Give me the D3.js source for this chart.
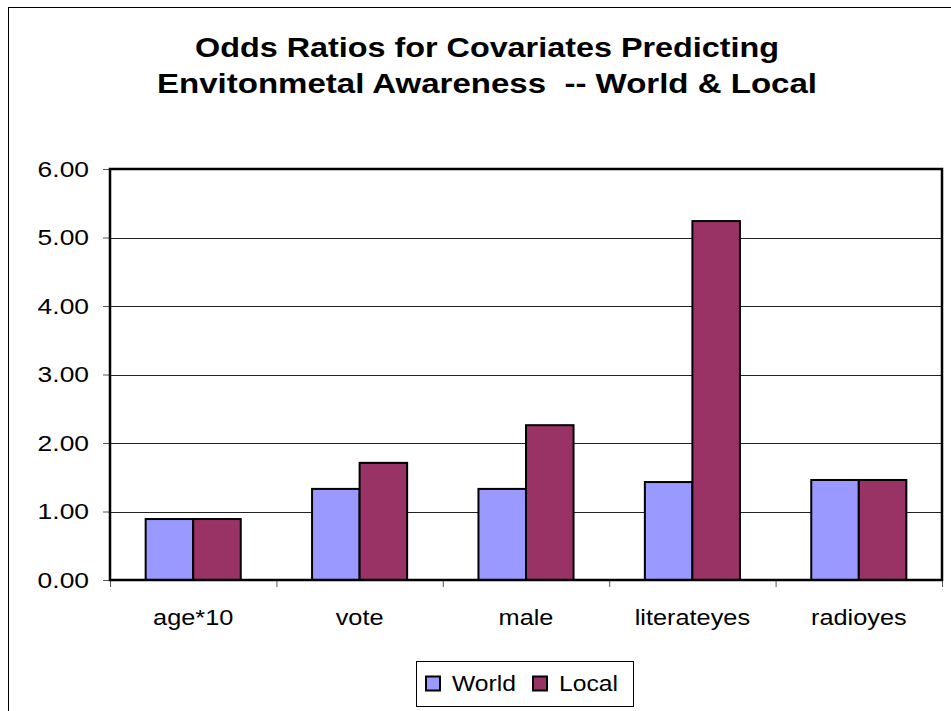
<!DOCTYPE html>
<html>
<head>
<meta charset="utf-8">
<script src="https://cdn.jsdelivr.net/npm/d3@7"></script>
<style>
  html, body { margin: 0; padding: 0; background: #fff; }
  svg { display: block; }
  text { font-family: "Liberation Sans", Arial, sans-serif; fill: #000; }
</style>
</head>
<body>
<svg id="chart" width="951" height="711"></svg>
<script>
// Odds ratios per covariate
const categories = ["age*10", "vote", "male", "literateyes", "radioyes"];
const seriesNames = ["World", "Local"];
const worldValues = [0.89, 1.33, 1.33, 1.43, 1.46];
const localValues = [0.89, 1.71, 2.26, 5.24, 1.46];
const yTicks = [0, 1, 2, 3, 4, 5, 6];
const titleLines = ["Odds Ratios for Covariates Predicting", "Envitonmetal Awareness  -- World & Local"];

const colors = { World: "#9999ff", Local: "#993366" };
const seriesValues = { World: worldValues, Local: localValues };

// widen text horizontally (the chart's text is drawn slightly stretched)
function stretch(sel, factor) {
  sel.each(function () {
    const w = this.getComputedTextLength();
    d3.select(this).attr("textLength", w * factor).attr("lengthAdjust", "spacingAndGlyphs");
  });
}

const svg = d3.select("#chart");

// outer chart frame
svg.append("rect")
  .attr("x", 8.5).attr("y", 7.5)
  .attr("width", 960).attr("height", 720)
  .attr("fill", "#fff").attr("stroke", "#000").attr("stroke-width", 1);

const plot = { left: 110, top: 169, right: 942, bottom: 580 };

const x0 = d3.scaleBand()
  .domain(categories)
  .range([plot.left, plot.right])
  .paddingInner(0).paddingOuter(0);

// gap width 150% of a bar: two bars take 2/3.5 of a category
const x1 = d3.scaleBand()
  .domain(seriesNames)
  .range([0, x0.bandwidth()])
  .paddingInner(0)
  .paddingOuter(0.75);

const y = d3.scaleLinear().domain([0, 6]).range([plot.bottom, plot.top]);

// gridlines
svg.append("g")
  .selectAll("line")
  .data(yTicks.filter(d => d > 0 && d < 6))
  .join("line")
  .attr("x1", plot.left).attr("x2", plot.right)
  .attr("y1", d => Math.round(y(d)) + 0.5).attr("y2", d => Math.round(y(d)) + 0.5)
  .attr("stroke", "#222").attr("stroke-width", 1);

// y axis
const yAxis = svg.append("g")
  .attr("transform", `translate(${plot.left},0)`)
  .call(d3.axisLeft(y).tickValues(yTicks).tickFormat(d3.format(".2f")).tickSize(7).tickPadding(14));
yAxis.select(".domain").remove();
yAxis.selectAll(".tick line").attr("stroke", "#555");
yAxis.selectAll(".tick text")
  .style("font-family", "'Liberation Sans', Arial, sans-serif")
  .style("font-size", "22px").attr("fill", "#000")
  .call(stretch, 1.2);

// x axis
const xAxis = svg.append("g")
  .attr("transform", `translate(0,${plot.bottom})`)
  .call(d3.axisBottom(x0).tickSize(0));
xAxis.select(".domain").remove();
xAxis.selectAll(".tick text")
  .attr("y", 45).attr("dy", 0)
  .style("font-family", "'Liberation Sans', Arial, sans-serif")
  .style("font-size", "22px").attr("fill", "#000")
  .call(stretch, 1.15);

// category separator ticks
svg.append("g")
  .selectAll("line")
  .data(d3.range(categories.length + 1))
  .join("line")
  .attr("x1", i => plot.left + i * x0.bandwidth() + 0.5)
  .attr("x2", i => plot.left + i * x0.bandwidth() + 0.5)
  .attr("y1", plot.bottom).attr("y2", plot.bottom + 7)
  .attr("stroke", "#555");

// bars
const groups = svg.append("g")
  .selectAll("g")
  .data(categories)
  .join("g")
  .attr("transform", d => `translate(${x0(d)},0)`);

groups.selectAll("rect")
  .data((c, i) => seriesNames.map(s => ({ s, v: seriesValues[s][i] })))
  .join("rect")
  .attr("x", d => x1(d.s))
  .attr("y", d => y(d.v))
  .attr("width", x1.bandwidth())
  .attr("height", d => plot.bottom - y(d.v))
  .attr("fill", d => colors[d.s])
  .attr("stroke", "#000").attr("stroke-width", 2);

// plot area border
svg.append("rect")
  .attr("x", plot.left).attr("y", plot.top)
  .attr("width", plot.right - plot.left).attr("height", plot.bottom - plot.top)
  .attr("fill", "none").attr("stroke", "#000").attr("stroke-width", 2.5);

// title
const titleWidths = [584, 660];
svg.append("g")
  .selectAll("text")
  .data(titleLines)
  .join("text")
  .attr("x", 487).attr("y", (d, i) => 57 + i * 36)
  .attr("text-anchor", "middle")
  .attr("xml:space", "preserve")
  .style("white-space", "pre")
  .style("font-size", "28px").style("font-weight", "bold")
  .text(d => d)
  .attr("textLength", (d, i) => titleWidths[i])
  .attr("lengthAdjust", "spacingAndGlyphs");

// legend
const legend = svg.append("g");
legend.append("rect")
  .attr("x", 416.5).attr("y", 661.5).attr("width", 217).attr("height", 45)
  .attr("fill", "#fff").attr("stroke", "#000").attr("stroke-width", 1);
const items = legend.selectAll("g.item")
  .data(seriesNames)
  .join("g").attr("class", "item")
  .attr("transform", (d, i) => `translate(${i === 0 ? 425 : 532},0)`);
items.append("rect")
  .attr("x", 1).attr("y", 676.5).attr("width", 14).attr("height", 14)
  .attr("fill", d => colors[d]).attr("stroke", "#000").attr("stroke-width", 2);
items.append("text")
  .attr("x", 27).attr("y", 691)
  .style("font-size", "22px")
  .text(d => d)
  .call(stretch, 1.12);
</script>
</body>
</html>
